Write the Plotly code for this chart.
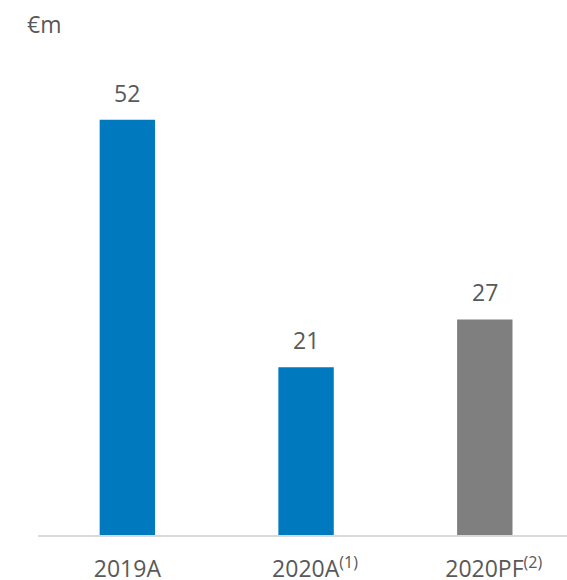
import plotly.graph_objects as go

categories = ["2019A", "2020A", "2020PF"]
tick_labels = ["2019A", "\u00a0\u00a0\u00a02020A<sup>(1)</sup>", "\u00a0\u00a0\u00a02020PF<sup>(2)</sup>"]
values = [52, 21, 27]
colors = ["#0079BF", "#0079BF", "#7F7F7F"]
unit_label = "€m"

FONT = "Open Sans"
TXT = "#595959"
FS = 23

fig = go.Figure()
fig.add_trace(go.Bar(
    x=categories, y=values, marker_color=colors, width=0.31,
    marker_line_width=0, hoverinfo="skip",
))
for c, v in zip(categories, values):
    fig.add_annotation(x=c, y=v, text=str(v), showarrow=False, yanchor="bottom",
                       yshift=9, font=dict(family=FONT, size=FS, color=TXT))
fig.add_annotation(x=0, y=1.0, xref="paper", yref="paper", xanchor="left", yanchor="top",
                   text=unit_label, showarrow=False, yshift=-6, xshift=-13,
                   font=dict(family=FONT, size=FS, color=TXT))

fig.update_layout(
    width=567, height=580,
    margin=dict(l=38, r=0, t=0, b=45, autoexpand=False),
    plot_bgcolor="white", paper_bgcolor="white",
    showlegend=False,
    xaxis=dict(type="category", range=[-0.5, 2.46], tickvals=categories, ticktext=tick_labels,
               showline=True, linecolor="#D9D9D9", linewidth=1.5, showgrid=False,
               ticks="", ticklabelstandoff=13, automargin=False,
               tickfont=dict(family=FONT, size=FS, color=TXT)),
    yaxis=dict(range=[0, 67], visible=False, showgrid=False, zeroline=False, automargin=False),
)
fig.write_html("out.html", config={"displayModeBar": False},
               post_script="document.body.style.margin='0';")
